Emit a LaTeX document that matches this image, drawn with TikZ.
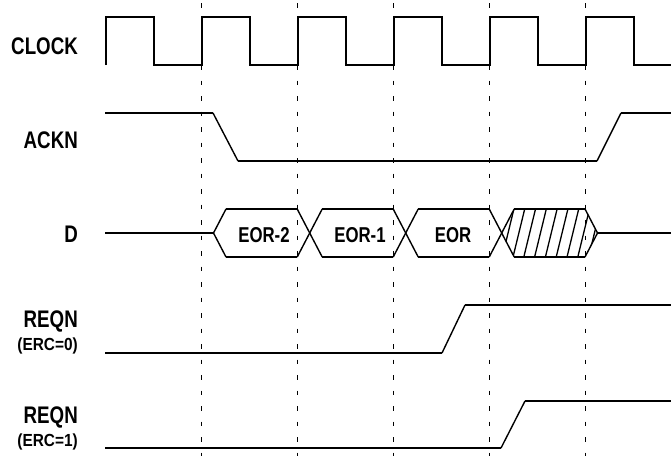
\documentclass[tikz,border=0pt]{standalone}
\usepackage{fontspec}
\setmainfont{Liberation Sans}[FakeStretch=0.78]
\newfontfamily\ercfont{Liberation Sans}[FakeStretch=0.88]
\usepackage{tikz}
\usetikzlibrary{calc}

\begin{document}
\begin{tikzpicture}[x=1pt,y=-1pt,
  sig/.style={black, line width=2pt},
  edge/.style={black, line width=1.4pt},
  gridline/.style={black, line width=1.1pt, dash pattern=on 4.5pt off 11pt},
  lbl/.style={anchor=base east, inner sep=0pt, font=\fontsize{24}{26}\selectfont\bfseries},
  sublbl/.style={anchor=base east, inner sep=0pt, font=\ercfont\fontsize{17.5}{19}\selectfont\bfseries},
  buslbl/.style={anchor=base, inner sep=0pt, font=\fontsize{21.5}{23}\selectfont\bfseries}]
\useasboundingbox (0,0) rectangle (671,456);
% dashed clock edges
\draw[gridline] (201.7,3) -- (201.7,456);
\draw[gridline] (297.7,3) -- (297.7,456);
\draw[gridline] (393.7,3) -- (393.7,456);
\draw[gridline] (489.7,3) -- (489.7,456);
\draw[gridline] (585.7,3) -- (585.7,456);
% labels
\node[lbl] (clk) at (78,54) {CLOCK};
\node[lbl] (ackn) at (78,148) {ACKN};
\node[lbl] (dat) at (78,242) {D};
\node[lbl] (reqa) at (78,327) {REQN};
\node[sublbl] (erca) at (78,350) {(ERC=0)};
\node[lbl] (reqb) at (78,423) {REQN};
\node[sublbl] (ercb) at (78,446) {(ERC=1)};
% CLOCK
\draw[sig] (105.7,65) -- (105.7,17) -- (153.7,17) -- (153.7,65) -- (201.7,65) -- (201.7,17)
  -- (249.7,17) -- (249.7,65) -- (297.7,65) -- (297.7,17) -- (345.7,17) -- (345.7,65)
  -- (393.7,65) -- (393.7,17) -- (441.7,17) -- (441.7,65) -- (489.7,65) -- (489.7,17)
  -- (537.7,17) -- (537.7,65) -- (585.7,65) -- (585.7,17) -- (633.7,17) -- (633.7,65) -- (672,65);
% ACKN
\draw[sig] (105,113) -- (213,113);
\draw[edge] (213,113) -- (238,161);
\draw[sig] (238,161) -- (597,161);
\draw[edge] (597,161) -- (621,113);
\draw[sig] (621,113) -- (672,113);
% D
\draw[sig] (105,233) -- (213.5,233);
\draw[edge] (226,209) -- (213.5,233) -- (226,257);
\draw[sig] (226,209) -- (297.2,209);
\draw[sig] (226,257) -- (297.2,257);
\draw[edge] (297.2,209) -- (322.2,257);
\draw[edge] (297.2,257) -- (322.2,209);
\draw[sig] (322.2,209) -- (393.2,209);
\draw[sig] (322.2,257) -- (393.2,257);
\draw[edge] (393.2,209) -- (418.2,257);
\draw[edge] (393.2,257) -- (418.2,209);
\draw[sig] (418.2,209) -- (489.2,209);
\draw[sig] (418.2,257) -- (489.2,257);
\draw[edge] (489.2,209) -- (514.2,257);
\draw[edge] (489.2,257) -- (514.2,209);
\draw[sig] (514.2,209) -- (585,209);
\draw[sig] (514.2,257) -- (585,257);
\draw[edge] (585,209) -- (597.5,233) -- (585,257);
\draw[sig] (597.5,233) -- (672,233);
% hatched (invalid) data
\begin{scope}
\clip (501.7,233) -- (514.2,209) -- (585,209) -- (597.5,233) -- (585,257) -- (514.2,257) -- cycle;
\foreach \hx in {491.4,502.2,513,523.8,534.6,545.4,556.2,567,577.8,588.6,599.4}
  \draw[black, line width=1.3pt] (\hx,257) -- (\hx+11.7,209);
\end{scope}
\node[buslbl] (eor2) at (264,242.5) {EOR-2};
\node[buslbl] (eor1) at (360,242.5) {EOR-1};
\node[buslbl] (eor0) at (453,242.5) {EOR};
% REQN (ERC=0)
\draw[sig] (105,353) -- (442,353);
\draw[edge] (442,353) -- (465,305);
\draw[sig] (465,305) -- (672,305);
% REQN (ERC=1)
\draw[sig] (105,448) -- (501,448);
\draw[edge] (501,448) -- (525,401);
\draw[sig] (525,401) -- (672,401);
\end{tikzpicture}
\end{document}
